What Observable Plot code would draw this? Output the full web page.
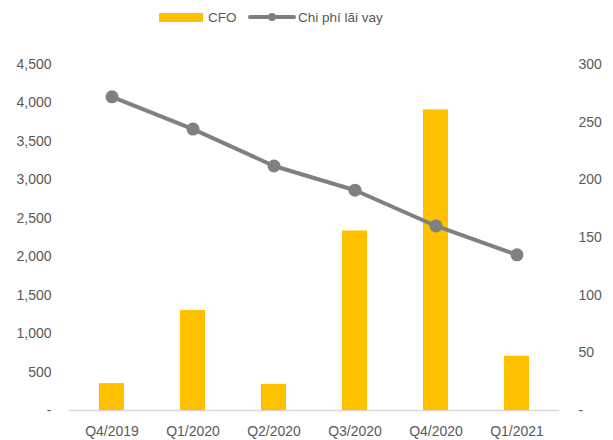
<!DOCTYPE html>
<html>
<head>
<meta charset="utf-8">
<script src="https://cdn.jsdelivr.net/npm/d3@7"></script>
<script src="https://cdn.jsdelivr.net/npm/@observablehq/plot@0.6"></script>
<style>
  body { margin: 0; background: #fff; font-family: "Liberation Sans", sans-serif; }
  #wrap { position: relative; width: 613px; height: 440px; }
  #legend { position: relative; height: 30px; font-size: 13.5px; color: #595959; }
  .li { position: absolute; top: 0; height: 30px; display: flex; align-items: center; }
  #chart { position: absolute; top: 30px; left: 0; }
</style>
</head>
<body>
<div id="wrap">
  <div id="legend">
    <div class="li" style="left:159px;">
      <span style="display:inline-block;width:44px;height:9px;background:#FFC000;margin-right:5px;margin-top:4px;"></span>
      <span style="margin-top:4px;">CFO</span>
    </div>
    <div class="li" style="left:248px;">
      <svg width="48" height="14" style="margin-right:2px;margin-top:4px;"><line x1="2" y1="7" x2="46" y2="7" stroke="#808080" stroke-width="4" stroke-linecap="round"/><circle cx="24" cy="7" r="4" fill="#808080"/></svg>
      <span style="margin-top:4px;">Chi phí lãi vay</span>
    </div>
  </div>
  <div id="chart"></div>
</div>
<script>
const categories = ["Q4/2019", "Q1/2020", "Q2/2020", "Q3/2020", "Q4/2020", "Q1/2021"];
const cfo = [350, 1300, 340, 2335, 3910, 705];
const interest = [272, 244, 212, 191, 160, 135];
const leftTicks = [0, 500, 1000, 1500, 2000, 2500, 3000, 3500, 4000, 4500];
const rightTicks = [0, 50, 100, 150, 200, 250, 300];

const leftMax = 4500, rightMax = 300;
const k = leftMax / rightMax;
const fmt = d => d === 0 ? "-" : d3.format(",")(d);

const data = categories.map((c, i) => ({cat: c, cfo: cfo[i], interest: interest[i]}));

const chart = Plot.plot({
  width: 613,
  height: 410,
  marginTop: 34,
  marginBottom: 30,
  marginLeft: 69,
  marginRight: 54,
  style: {fontFamily: "Liberation Sans, sans-serif", fontSize: "14px", color: "#595959", background: "#fff"},
  x: {domain: categories, paddingInner: 0.69, paddingOuter: 0.345, label: null},
  y: {domain: [0, leftMax], label: null},
  marks: [
    Plot.axisY({ticks: leftTicks, tickFormat: fmt, tickSize: 0, tickPadding: 18, label: null}),
    Plot.axisY({anchor: "right", ticks: rightTicks.map(v => v * k), tickFormat: d => fmt(Math.round(d / k)), tickSize: 0, tickPadding: 19, textAnchor: "start", label: null}),
    Plot.axisX({tickSize: 0, tickPadding: 16, label: null}),
    Plot.ruleY([0], {stroke: "#d9d9d9", strokeWidth: 1.5}),
    Plot.barY(data, {x: "cat", y: "cfo", fill: "#FFC000"}),
    Plot.line(data, {x: "cat", y: d => d.interest * k, stroke: "#808080", strokeWidth: 4}),
    Plot.dot(data, {x: "cat", y: d => d.interest * k, r: 6.5, fill: "#808080"})
  ]
});
document.getElementById("chart").appendChild(chart);
</script>
</body>
</html>
